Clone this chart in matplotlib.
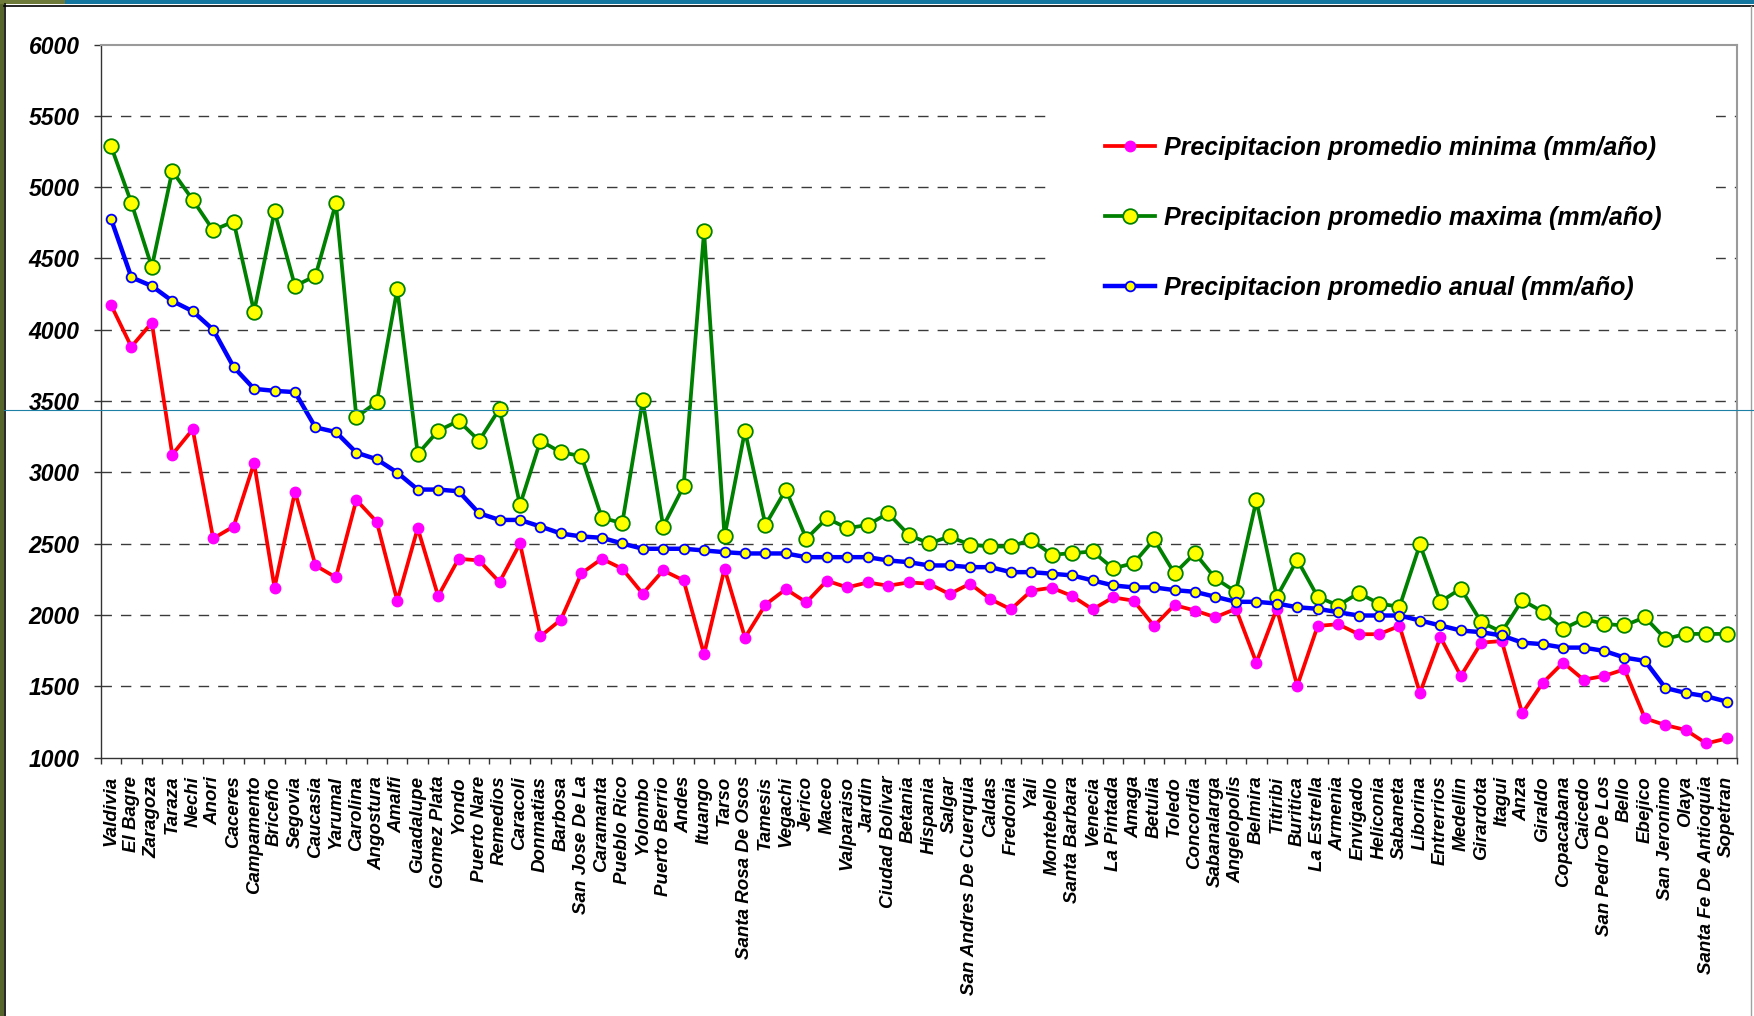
import matplotlib
matplotlib.use("Agg")
import matplotlib.pyplot as plt
from matplotlib.patches import Rectangle
from matplotlib.lines import Line2D

municipios = [
    "Valdivia", "El Bagre", "Zaragoza", "Taraza", "Nechi", "Anori", "Caceres",
    "Campamento", "Briceño", "Segovia", "Caucasia", "Yarumal", "Carolina",
    "Angostura", "Amalfi", "Guadalupe", "Gomez Plata", "Yondo", "Puerto Nare",
    "Remedios", "Caracoli", "Donmatias", "Barbosa", "San Jose De La",
    "Caramanta", "Pueblo Rico", "Yolombo", "Puerto Berrio", "Andes", "Ituango",
    "Tarso", "Santa Rosa De Osos", "Tamesis", "Vegachi", "Jerico", "Maceo",
    "Valparaiso", "Jardin", "Ciudad Bolivar", "Betania", "Hispania", "Salgar",
    "San Andres De Cuerquia", "Caldas", "Fredonia", "Yali", "Montebello",
    "Santa Barbara", "Venecia", "La Pintada", "Amaga", "Betulia", "Toledo",
    "Concordia", "Sabanalarga", "Angelopolis", "Belmira", "Titiribi",
    "Buritica", "La Estrella", "Armenia", "Envigado", "Heliconia", "Sabaneta",
    "Liborina", "Entrerrios", "Medellin", "Girardota", "Itagui", "Anza",
    "Giraldo", "Copacabana", "Caicedo", "San Pedro De Los", "Bello", "Ebejico",
    "San Jeronimo", "Olaya", "Santa Fe De Antioquia", "Sopetran",
]

precip_min = [
    4176, 3881, 4050, 3125, 3302, 2537, 2621, 3066, 2192, 2866,
    2348, 2264, 2807, 2653, 2101, 2609, 2133, 2395, 2383, 2231,
    2502, 1851, 1968, 2292, 2395, 2325, 2150, 2313, 2243, 1725,
    2325, 1842, 2073, 2182, 2089, 2241, 2194, 2229, 2206, 2229,
    2220, 2147, 2220, 2112, 2040, 2171, 2192, 2133, 2040, 2124,
    2101, 1924, 2070, 2032, 1985, 2044, 1667, 2046, 1503, 1924,
    1936, 1866, 1866, 1924, 1454, 1845, 1573, 1807, 1818, 1311,
    1524, 1667, 1547, 1573, 1620, 1276, 1229, 1194, 1100, 1135,
]

precip_max = [
    5290, 4890, 4440, 5113, 4911, 4698, 4759, 4127, 4830, 4307,
    4378, 4888, 3387, 3494, 4284, 3129, 3292, 3362, 3222, 3446,
    2772, 3222, 3141, 3115, 2683, 2644, 3505, 2621, 2903, 4690,
    2551, 3292, 2632, 2880, 2535, 2679, 2609, 2632, 2714, 2563,
    2502, 2551, 2493, 2481, 2481, 2528, 2423, 2434, 2446, 2327,
    2364, 2530, 2292, 2434, 2257, 2163, 2804, 2128, 2388, 2128,
    2067, 2154, 2081, 2058, 2495, 2093, 2186, 1950, 1882, 2105,
    2023, 1903, 1973, 1938, 1927, 1985, 1833, 1868, 1868, 1868,
]

precip_anual = [
    4780, 4368, 4307, 4202, 4130, 4001, 3739, 3586, 3572, 3563,
    3316, 3283, 3139, 3092, 2999, 2880, 2880, 2868, 2714, 2667,
    2667, 2621, 2572, 2551, 2542, 2502, 2465, 2465, 2465, 2453,
    2441, 2432, 2432, 2432, 2406, 2406, 2406, 2406, 2383, 2371,
    2348, 2348, 2336, 2336, 2301, 2301, 2290, 2278, 2243, 2208,
    2194, 2194, 2175, 2163, 2128, 2093, 2093, 2081, 2055, 2044,
    2020, 1997, 1997, 1997, 1962, 1927, 1892, 1880, 1857, 1807,
    1796, 1772, 1772, 1749, 1702, 1679, 1489, 1454, 1431, 1393,
]

y_ticks = [1000, 1500, 2000, 2500, 3000, 3500, 4000, 4500, 5000, 5500, 6000]
grid_levels = [1500, 2000, 2500, 3000, 3500, 4000, 4500, 5000, 5500]

plt.rcParams["font.family"] = ["Liberation Sans", "DejaVu Sans"]

fig = plt.figure(figsize=(17.54, 10.16), dpi=100)
fig.patch.set_facecolor("white")
ax = fig.add_axes([0.0574, 0.2542, 0.9329, 0.7020])

x = list(range(len(municipios)))

# dashed horizontal guides
for lvl in grid_levels:
    ax.axhline(lvl, color="#3a3a3a", lw=1.0, ls=(0, (7.5, 6.5)), zorder=0.5)

# white box behind the legend hides the guides there
ax.add_patch(Rectangle((0.578, 0.635), 0.409, 0.30, transform=ax.transAxes,
                       facecolor="white", edgecolor="none", zorder=1))

ax.plot(x, precip_min, color="#ff0000", lw=2.7, marker="o", markersize=7.5,
        markerfacecolor="#ff00ff", markeredgecolor="#ff00ff", zorder=3,
        label="Precipitacion promedio minima (mm/año)")
ax.plot(x, precip_max, color="#008000", lw=2.7, marker="o", markersize=10.5,
        markerfacecolor="#ffff00", markeredgecolor="#008000",
        markeredgewidth=1.3, zorder=4,
        label="Precipitacion promedio maxima (mm/año)")
ax.plot(x, precip_anual, color="#0000ff", lw=3.2, marker="o", markersize=7,
        markerfacecolor="#ffff00", markeredgecolor="#0000ff",
        markeredgewidth=1.3, zorder=5,
        label="Precipitacion promedio anual (mm/año)")

ax.set_xlim(-0.5, len(municipios) - 0.5)
ax.set_ylim(1000, 6000)

ax.set_yticks(y_ticks)
ax.set_yticklabels([str(v) for v in y_ticks], fontsize=16.5,
                   fontweight="bold", fontstyle="italic")
ax.tick_params(axis="y", direction="out", length=5, width=1, pad=10,
               color="#333333")

# category labels on major ticks, tick marks between categories
ax.set_xticks(x)
ax.set_xticklabels(municipios, rotation=90, ha="center", va="top",
                   fontsize=13.5, fontweight="bold", fontstyle="italic")
ax.tick_params(axis="x", which="major", length=0, pad=13)
ax.set_xticks([i - 0.5 for i in range(len(municipios) + 1)], minor=True)
ax.tick_params(axis="x", which="minor", direction="out", length=4.5,
               width=1, color="#333333")

for side in ("left", "bottom"):
    ax.spines[side].set_color("#333333")
    ax.spines[side].set_linewidth(1.0)
for side in ("top", "right"):
    ax.spines[side].set_color("#9a9a9a")
    ax.spines[side].set_linewidth(1.5)

ax.legend(loc="center left", bbox_to_anchor=(0.606, 0.757), frameon=False,
          borderpad=0, handlelength=2.0, handletextpad=0.35,
          labelspacing=1.85, prop={"weight": "bold", "style": "italic",
                                   "size": 18})

# slide frame around the chart
fig.add_artist(Rectangle((0, 0), 4 / 1754, 1, transform=fig.transFigure,
                         facecolor="#55652c", edgecolor="none"))
fig.add_artist(Rectangle((0, 1 - 4 / 1016), 1, 4 / 1016,
                         transform=fig.transFigure, facecolor="#13779f",
                         edgecolor="none"))
fig.add_artist(Rectangle((0, 1 - 4 / 1016), 65 / 1754, 4 / 1016,
                         transform=fig.transFigure, facecolor="#6d7a3a",
                         edgecolor="none"))
fig.add_artist(Line2D([4.8 / 1754, 4.8 / 1754], [0, 1 - 4 / 1016],
                      transform=fig.transFigure, color="black", lw=1.2))
fig.add_artist(Line2D([4 / 1754, 1], [1 - 5.5 / 1016, 1 - 5.5 / 1016],
                      transform=fig.transFigure, color="black", lw=1.2))
fig.add_artist(Line2D([1751 / 1754, 1751 / 1754], [0, 1 - 5.5 / 1016],
                      transform=fig.transFigure, color="#a0a0a0", lw=1.0))
fig.add_artist(Line2D([4 / 1754, 1], [1 - 410 / 1016, 1 - 410 / 1016],
                      transform=fig.transFigure, color="#1f80a6", lw=0.8,
                      zorder=10))

fig.savefig("out.png", dpi=100, facecolor=fig.get_facecolor())
